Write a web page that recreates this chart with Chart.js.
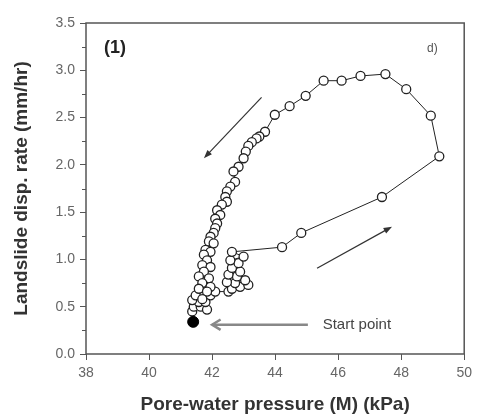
<!DOCTYPE html>
<html>
<head>
<meta charset="utf-8">
<script src="https://cdn.jsdelivr.net/npm/chart.js@4"></script>
<style>
  html, body { margin: 0; padding: 0; background: #fff; }
  #wrap { width: 477px; height: 416px; }
</style>
</head>
<body>
<div id="wrap"><canvas id="chart"></canvas></div>
<script>
// pore-water pressure (kPa) and displacement rate (mm/hr), in time order
const pressure = [41.37, 41.42, 41.64, 41.84, 41.58, 41.37, 41.79, 41.69, 41.48, 41.95, 42.10,
  42.52, 42.63, 42.89, 43.15, 42.73, 42.47, 43.05, 42.79, 42.52, 42.89, 42.63, 42.84, 42.58, 43.00, 42.63,
  44.22, 44.83, 47.39, 49.21, 48.94, 48.16, 47.50, 46.71, 46.11, 45.54, 44.97, 44.46, 43.99,
  43.68, 43.50, 43.41, 43.26, 43.15, 43.07, 43.00, 42.84, 42.68, 42.73, 42.58, 42.47, 42.42, 42.47,
  42.31, 42.16, 42.26, 42.10, 42.16, 42.10, 42.05, 41.95, 41.90, 42.05, 41.79, 41.95, 41.74, 41.84,
  41.69, 41.95, 41.74, 41.58, 41.90, 41.69, 41.95, 41.58, 41.84, 41.69];
const rate = [0.45, 0.50, 0.50, 0.47, 0.55, 0.57, 0.55, 0.61, 0.62, 0.62, 0.66,
  0.66, 0.69, 0.71, 0.73, 0.75, 0.76, 0.78, 0.82, 0.84, 0.87, 0.91, 0.96, 0.99, 1.03, 1.08,
  1.13, 1.28, 1.66, 2.09, 2.52, 2.80, 2.96, 2.94, 2.89, 2.89, 2.73, 2.62, 2.53,
  2.35, 2.30, 2.28, 2.24, 2.20, 2.14, 2.07, 1.98, 1.93, 1.82, 1.77, 1.72, 1.66, 1.61,
  1.58, 1.52, 1.47, 1.43, 1.38, 1.33, 1.28, 1.24, 1.19, 1.17, 1.10, 1.08, 1.05, 0.99,
  0.94, 0.92, 0.87, 0.82, 0.80, 0.75, 0.71, 0.69, 0.66, 0.58];
const startPoint = { x: 41.40, y: 0.34 };
const xTicks = [38, 40, 42, 44, 46, 48, 50];
const yTicks = [0, 0.5, 1, 1.5, 2, 2.5, 3, 3.5];

const points = pressure.map((p, i) => ({ x: p, y: rate[i] }));
points.unshift({ x: startPoint.x, y: startPoint.y });

function arrow(ctx, x1, y1, x2, y2, filled) {
  const a = Math.atan2(y2 - y1, x2 - x1);
  const len = filled ? 9 : 10;
  const w = filled ? 0.35 : 0.55;
  ctx.beginPath();
  ctx.moveTo(x1, y1);
  ctx.lineTo(filled ? x2 - Math.cos(a) * 4 : x2, filled ? y2 - Math.sin(a) * 4 : y2);
  ctx.stroke();
  ctx.beginPath();
  ctx.moveTo(x2 - len * Math.cos(a - w), y2 - len * Math.sin(a - w));
  ctx.lineTo(x2, y2);
  ctx.lineTo(x2 - len * Math.cos(a + w), y2 - len * Math.sin(a + w));
  if (filled) { ctx.closePath(); ctx.fill(); } else { ctx.stroke(); }
}

const extras = {
  id: 'extras',
  afterDatasetsDraw(chart) {
    const { ctx, chartArea: ca, scales: { x, y } } = chart;
    ctx.save();
    // frame
    ctx.strokeStyle = '#555';
    ctx.lineWidth = 1.5;
    ctx.strokeRect(ca.left, ca.top, ca.right - ca.left, ca.bottom - ca.top);
    // minor y ticks
    ctx.lineWidth = 1;
    for (let v = 0.25; v < 3.5; v += 0.5) {
      const py = Math.round(y.getPixelForValue(v)) + 0.5;
      ctx.beginPath();
      ctx.moveTo(ca.left, py);
      ctx.lineTo(ca.left - 4, py);
      ctx.stroke();
    }
    // direction arrows
    ctx.strokeStyle = '#333';
    ctx.fillStyle = '#333';
    ctx.lineWidth = 1.2;
    arrow(ctx, x.getPixelForValue(43.57), y.getPixelForValue(2.714),
      x.getPixelForValue(41.74), y.getPixelForValue(2.07), true);
    arrow(ctx, x.getPixelForValue(45.33), y.getPixelForValue(0.906),
      x.getPixelForValue(47.71), y.getPixelForValue(1.346), true);
    // start point arrow
    ctx.strokeStyle = '#888';
    ctx.lineWidth = 2.5;
    arrow(ctx, x.getPixelForValue(45.04), y.getPixelForValue(0.31),
      x.getPixelForValue(42.0), y.getPixelForValue(0.31), false);
    // texts
    ctx.textBaseline = 'middle';
    ctx.fillStyle = '#444';
    ctx.font = '15px "Liberation Sans", Arial, sans-serif';
    ctx.fillText('Start point', x.getPixelForValue(45.51), y.getPixelForValue(0.31));
    ctx.fillStyle = '#222';
    ctx.font = 'bold 18px "Liberation Sans", Arial, sans-serif';
    ctx.fillText('(1)', x.getPixelForValue(38.57), y.getPixelForValue(3.24));
    ctx.fillStyle = '#555';
    ctx.font = '12px "Liberation Sans", Arial, sans-serif';
    ctx.fillText('d)', x.getPixelForValue(48.82), y.getPixelForValue(3.23));
    ctx.restore();
  }
};

const tickFont = { family: '"Liberation Sans", Arial, sans-serif', size: 14 };
const titleFont = { family: '"Liberation Sans", Arial, sans-serif', size: 19, weight: 'bold' };

new Chart(document.getElementById('chart'), {
  type: 'scatter',
  data: {
    datasets: [
      {
        data: [startPoint],
        pointRadius: 5.5,
        pointBackgroundColor: '#000',
        pointBorderColor: '#000',
        showLine: false,
        order: 0
      },
      {
        data: points,
        showLine: true,
        borderColor: '#222',
        borderWidth: 1,
        pointRadius: 4.5,
        pointBorderWidth: 1.3,
        pointBackgroundColor: '#fff',
        pointBorderColor: '#222',
        order: 1
      }
    ]
  },
  options: {
    responsive: true,
    maintainAspectRatio: false,
    animation: false,
    layout: { padding: { top: 23, right: 9, bottom: 0, left: 0 } },
    plugins: { legend: { display: false }, tooltip: { enabled: false } },
    scales: {
      x: {
        type: 'linear',
        min: 38, max: 50,
        afterBuildTicks: s => { s.ticks = xTicks.map(v => ({ value: v })); },
        afterFit: s => { s.height = 62; },
        grid: { drawOnChartArea: false, tickLength: 6, color: '#555', tickWidth: 1 },
        border: { display: false },
        ticks: { color: '#666', font: tickFont, padding: 5 },
        title: { display: true, text: 'Pore-water pressure (M) (kPa)', color: '#333', font: titleFont, padding: { top: 0, bottom: 0 } }
      },
      y: {
        type: 'linear',
        min: 0, max: 3.5,
        afterBuildTicks: s => { s.ticks = yTicks.map(v => ({ value: v })); },
        afterFit: s => { s.width = 86; },
        grid: { drawOnChartArea: false, tickLength: 6, color: '#555', tickWidth: 1 },
        border: { display: false },
        ticks: { color: '#666', font: tickFont, padding: 5, callback: v => v.toFixed(1) },
        title: { display: true, text: 'Landslide disp. rate (mm/hr)', color: '#333', font: titleFont, padding: { top: 10, bottom: 0 } }
      }
    }
  },
  plugins: [extras]
});
</script>
</body>
</html>
